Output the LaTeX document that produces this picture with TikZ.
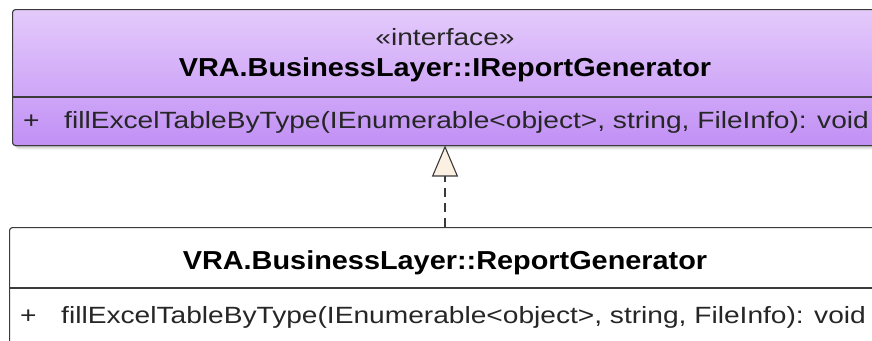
\documentclass[tikz,border=0pt]{standalone}
\usepackage{fontspec}
\setmainfont{Liberation Sans}
\usetikzlibrary{arrows.meta}
\definecolor{lineclr}{HTML}{3A3A3A}
\definecolor{ifacetop}{HTML}{E4CAFB}
\definecolor{ifacebot}{HTML}{C190F5}
\definecolor{headfill}{HTML}{FBF0E1}
\tikzset{
  umlbox/.style={draw=lineclr, line width=1.1pt, rounded corners=3pt, inner sep=0pt, anchor=north west},
  ifacebox/.style={umlbox, top color=ifacetop, bottom color=ifacebot},
  implbox/.style={umlbox, fill=white},
  boxshadow/.style={fill=black, rounded corners=4pt},
  divider/.style={draw=lineclr, line width=1.1pt},
  label/.style={inner sep=0pt, xscale=1.197, text=black!85, font=\fontsize{23.5}{26}\selectfont},
  title/.style={inner sep=0pt, xscale=1.11, font=\fontsize{26}{28}\selectfont\bfseries},
  realize/.style={draw=lineclr, line width=1.1pt, dash pattern=on 9pt off 6pt,
    -{Triangle[length=31pt,width=26pt,fill=headfill,line width=1.1pt,sep=0pt]}}
}
\begin{document}
\begin{tikzpicture}[x=1pt,y=-1pt]
\useasboundingbox (0,0) rectangle (872,340);
% soft shadows under both classes
\foreach \o/\a in {1/0.10,2/0.07,3/0.05,4/0.03}{
  \fill[boxshadow, opacity=\a] (12+\o,9+\o+1) rectangle (890,145+\o+1);
  \fill[boxshadow, opacity=\a] (9+\o,227+\o+1) rectangle (890,360);
}
% interface
\node[ifacebox, minimum width=876pt, minimum height=136pt] (iface) at (12,9) {};
\draw[divider] (12,97) -- (888,97);
\node[label, anchor=base] (stereo) at (445,45) {«interface»};
\node[title, anchor=base] (ifname) at (445,76) {VRA.BusinessLayer::IReportGenerator};
\node[label, anchor=base west] (ifvis) at (23,128) {+};
\node[label, anchor=base west] (ifop) at (64,128) {fillExcelTableByType(IEnumerable<object>, string, FileInfo): void};
% implementing class
\node[implbox, minimum width=880pt, minimum height=140pt] (impl) at (9,227) {};
\draw[divider] (9,288) -- (889,288);
\node[title, anchor=base] (implname) at (445,269) {VRA.BusinessLayer::ReportGenerator};
\node[label, anchor=base west] (implvis) at (20,323) {+};
\node[label, anchor=base west] (implop) at (61,323) {fillExcelTableByType(IEnumerable<object>, string, FileInfo): void};
% realization
\coordinate (tip) at (445,145.5);
\coordinate (tail) at (445,227);
\draw[realize] (tail) -- (tip);
\end{tikzpicture}
\end{document}
